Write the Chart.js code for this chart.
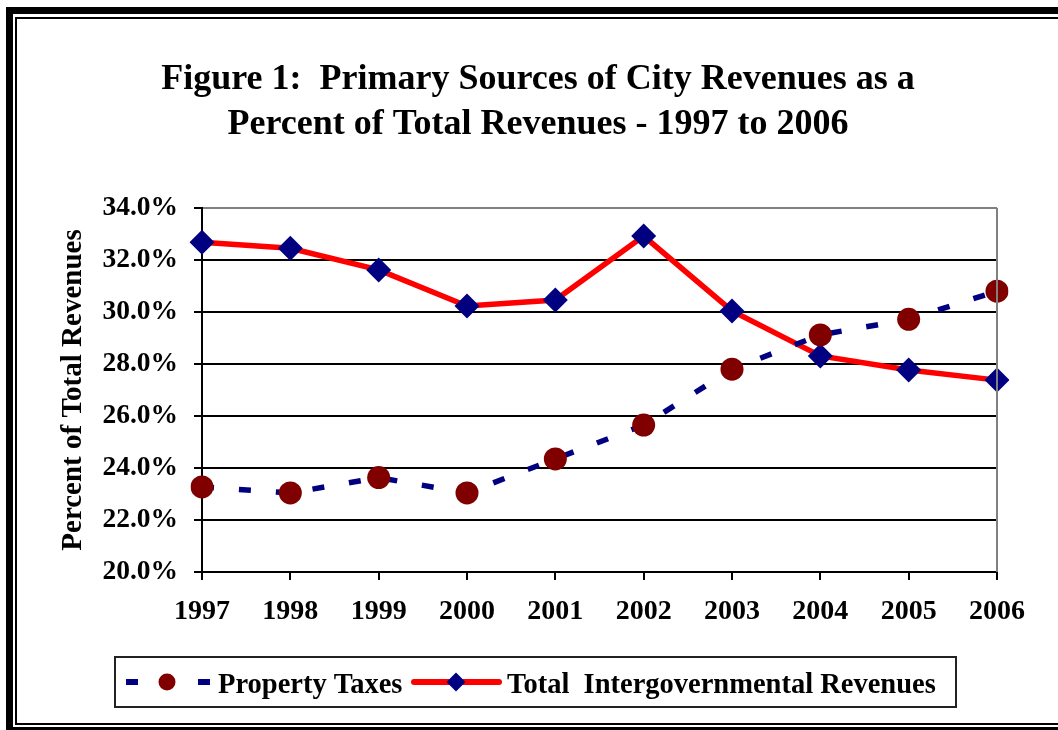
<!DOCTYPE html>
<html lang="en">
<head>
  <meta charset="UTF-8">
  <title>Figure 1: Primary Sources of City Revenues</title>
  <script src="https://cdn.jsdelivr.net/npm/chart.js"></script>
  <style>
    html, body { margin: 0; padding: 0; background: #fff; }
    #wrap { width: 1058px; height: 730px; }
  </style>
</head>
<body>
  <div id="wrap"><canvas id="revChart" width="1058" height="730"></canvas></div>

  <script>
    // data (percent of total revenues)
    const years = ['1997', '1998', '1999', '2000', '2001', '2002', '2003', '2004', '2005', '2006'];
    const propertyTaxes = [23.27, 23.04, 23.63, 23.04, 24.35, 25.65, 27.8, 29.12, 29.72, 30.8];
    const intergovRevenues = [32.68, 32.45, 31.62, 30.23, 30.46, 32.92, 30.04, 28.31, 27.77, 27.38];
    const titleLines = ['Figure 1:  Primary Sources of City Revenues as a', 'Percent of Total Revenues - 1997 to 2006'];
    const legendLabels = ['Property Taxes', 'Total  Intergovernmental Revenues'];

    const SERIF = "'Liberation Serif', 'Times New Roman', serif";

    // frame, title, right plot border and the boxed legend
    const decor = {
      id: 'decor',
      beforeDraw(chart) {
        const ctx = chart.ctx;
        ctx.save();
        ctx.fillStyle = '#fff';
        ctx.fillRect(0, 0, chart.width, chart.height);
        ctx.fillStyle = '#000';
        // thick outer frame
        ctx.fillRect(6, 7, 1060, 7);
        ctx.fillRect(6, 7, 7, 730);
        ctx.fillRect(6, 727, 1060, 7);
        // thin inner frame
        ctx.fillRect(15, 17, 1050, 2);
        ctx.fillRect(15, 17, 2, 708);
        ctx.fillRect(15, 723, 1050, 2);

        ctx.font = 'bold 36px ' + SERIF;
        ctx.textAlign = 'center';
        ctx.textBaseline = 'alphabetic';
        ctx.fillText(titleLines[0], 538, 89);
        ctx.fillText(titleLines[1], 538, 134);
        ctx.restore();
      },
      afterDatasetsDraw(chart) {
        const ctx = chart.ctx;
        const a = chart.chartArea;
        ctx.save();
        ctx.strokeStyle = '#808080';
        ctx.lineWidth = 2;
        ctx.beginPath();
        ctx.moveTo(a.right, a.top);
        ctx.lineTo(a.right, a.bottom);
        ctx.stroke();
        ctx.restore();
      },
      afterDraw(chart) {
        const ctx = chart.ctx;
        const ds = chart.data.datasets;
        const cy = 682;
        ctx.save();
        ctx.strokeStyle = '#222';
        ctx.lineWidth = 2;
        ctx.strokeRect(115, 657, 841, 50);

        // property taxes symbol
        ctx.strokeStyle = ds[0].borderColor;
        ctx.lineWidth = 6;
        ctx.beginPath();
        ctx.moveTo(126, cy); ctx.lineTo(138, cy);
        ctx.moveTo(198, cy); ctx.lineTo(210, cy);
        ctx.stroke();
        ctx.fillStyle = ds[0].pointBackgroundColor;
        ctx.beginPath();
        ctx.arc(167, cy, 8.5, 0, Math.PI * 2);
        ctx.fill();

        // intergovernmental symbol
        ctx.strokeStyle = ds[1].borderColor;
        ctx.lineCap = 'round';
        ctx.beginPath();
        ctx.moveTo(414, cy); ctx.lineTo(499, cy);
        ctx.stroke();
        ctx.fillStyle = ds[1].pointBackgroundColor;
        ctx.beginPath();
        ctx.moveTo(456 - 9.5, cy); ctx.lineTo(456, cy - 9.5);
        ctx.lineTo(456 + 9.5, cy); ctx.lineTo(456, cy + 9.5);
        ctx.closePath();
        ctx.fill();

        ctx.fillStyle = '#000';
        ctx.font = 'bold 28.5px ' + SERIF;
        ctx.textAlign = 'left';
        ctx.textBaseline = 'alphabetic';
        ctx.fillText(legendLabels[0], 218, 693);
        ctx.fillText(legendLabels[1], 507, 693);
        ctx.restore();
      }
    };

    new Chart(document.getElementById('revChart'), {
      type: 'line',
      data: {
        labels: years,
        datasets: [
          {
            label: legendLabels[0],
            data: propertyTaxes,
            borderColor: '#000080',
            borderWidth: 5.5,
            borderDash: [12, 25],
            pointStyle: 'circle',
            pointRadius: 11.5,
            pointBackgroundColor: '#800000',
            pointBorderWidth: 0,
            tension: 0
          },
          {
            label: legendLabels[1],
            data: intergovRevenues,
            borderColor: '#ff0000',
            borderWidth: 5.5,
            pointStyle: 'rectRot',
            pointRadius: 12.5,
            pointBackgroundColor: '#000080',
            pointBorderWidth: 0,
            tension: 0
          }
        ]
      },
      options: {
        responsive: false,
        animation: false,
        layout: { padding: { left: 20, right: 61, top: 208, bottom: 98 } },
        plugins: {
          legend: { display: false },
          title: { display: false },
          tooltip: { enabled: false }
        },
        scales: {
          x: {
            offset: false,
            afterFit: (scale) => { scale.height = 60; },
            grid: { drawOnChartArea: false, tickLength: 8, tickColor: '#000', lineWidth: 2 },
            border: { color: '#000', width: 2 },
            ticks: {
              color: '#000',
              padding: 15,
              maxRotation: 0,
              font: { family: SERIF, size: 28, weight: 'bold' }
            }
          },
          y: {
            min: 20,
            max: 34,
            afterFit: (scale) => { scale.width = 182; },
            grid: {
              color: (c) => (c.tick && c.tick.value === 34 ? '#808080' : '#000'),
              tickColor: '#000',
              tickLength: 8,
              lineWidth: 2
            },
            border: { color: '#000', width: 2 },
            ticks: {
              stepSize: 2,
              color: '#000',
              padding: 16,
              font: { family: SERIF, size: 27.5, weight: 'bold' },
              callback: (v) => v.toFixed(1) + '%'
            },
            title: {
              display: true,
              text: 'Percent of Total Revenues',
              color: '#000',
              padding: { top: 36, bottom: 0 },
              font: { family: SERIF, size: 29, weight: 'bold' }
            }
          }
        }
      },
      plugins: [decor]
    });
  </script>
</body>
</html>
